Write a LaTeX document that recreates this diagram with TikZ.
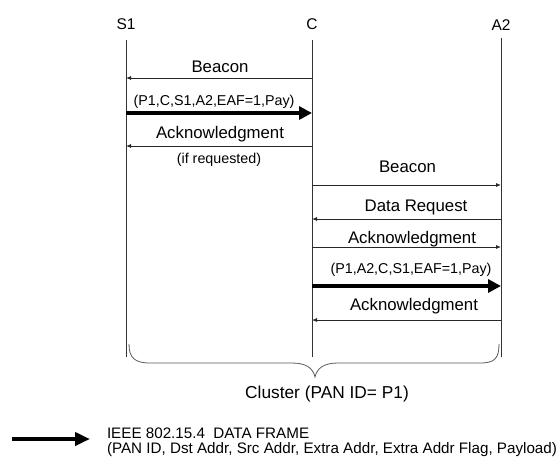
\documentclass[tikz,border=0pt]{standalone}
\usepackage{fontspec}
\setmainfont{Liberation Sans}
\usetikzlibrary{arrows.meta}
\begin{document}
\begin{tikzpicture}[x=1pt,y=-1pt,
 every node/.style={inner sep=0pt, outer sep=0pt},
 head/.style={anchor=base, font=\fontsize{15.5}{18}\selectfont},
 lbl/.style={anchor=base, font=\fontsize{16.8}{19}\selectfont},
 slbl/.style={anchor=base, font=\fontsize{14.3}{17}\selectfont},
 legtext/.style={anchor=base west, font=\fontsize{15.2}{18}\selectfont},
 life/.style={line width=0.9pt, draw=black!80},
 msg/.style={line width=0.8pt, draw=black!85, -{Latex[length=5pt,width=4pt]}},
 frame/.style={line width=4pt, -{Triangle[length=13pt,width=13pt]}},
 bracestyle/.style={line width=0.8pt, draw=black!65}]
\useasboundingbox (0,0) rectangle (557,459);
% headers
\node[head] (S1) at (126,29.3) {S1};
\node[head] (C) at (312,29.3) {C};
\node[head] (A2) at (501,30.7) {A2};
% lifelines
\coordinate (S1t) at (126,40);  \coordinate (S1b) at (126,357);
\coordinate (Ct) at (312,40);   \coordinate (Cb) at (312,357);
\coordinate (A2t) at (501,38);  \coordinate (A2b) at (501,357);
\draw[life] (S1t) -- (S1b);
\draw[life] (Ct) -- (Cb);
\draw[life] (A2t) -- (A2b);
% messages S1 <-> C
\node[lbl] (m1) at (220,72.5) {Beacon};
\draw[msg] (C |- 0,78) -- (S1 |- 0,78);
\node[slbl] (m2) at (214,105) {(P1,C,S1,A2,EAF=1,Pay)};
\draw[frame] (S1 |- 0,113) -- (C |- 0,113);
\node[lbl] (m3) at (220,138) {Acknowledgment};
\draw[msg] (C |- 0,146) -- (S1 |- 0,146);
\node[slbl] (m3b) at (219,163.3) {(if requested)};
% messages C <-> A2
\node[lbl] (m4) at (407.5,172.5) {Beacon};
\draw[msg] (C |- 0,185) -- (A2 |- 0,185);
\node[lbl] (m5) at (416,211) {Data Request};
\draw[msg] (A2 |- 0,219) -- (C |- 0,219);
\node[lbl] (m6) at (412,243.3) {Acknowledgment};
\draw[msg] (C |- 0,247) -- (A2 |- 0,247);
\node[slbl] (m7) at (411,273) {(P1,A2,C,S1,EAF=1,Pay)};
\draw[frame] (C |- 0,286) -- (A2 |- 0,286);
\node[lbl] (m8) at (414,310.7) {Acknowledgment};
\draw[msg] (A2 |- 0,320) -- (C |- 0,320);
% brace
\draw[bracestyle] (129,344) .. controls (129,358) and (135,363) .. (150,363)
  -- (292,363) .. controls (306,363) and (313,368) .. (315,377)
  .. controls (317,368) and (324,363) .. (338,363)
  -- (480,363) .. controls (495,363) and (499,358) .. (499,344);
\node[lbl, font=\fontsize{17.3}{20}\selectfont] (cl) at (327,398.3) {Cluster (PAN ID= P1)};
% legend
\coordinate (La) at (12,439);
\coordinate (Lb) at (90,439);
\draw[frame, -{Triangle[length=15pt,width=13pt]}] (La) -- (Lb);
\node[legtext] (lg1) at (107,438.3) {IEEE 802.15.4\ \ DATA FRAME};
\node[legtext] (lg2) at (107,453.3) {(PAN ID, Dst Addr, Src Addr, Extra Addr, Extra Addr Flag, Payload)};
\end{tikzpicture}
\end{document}
